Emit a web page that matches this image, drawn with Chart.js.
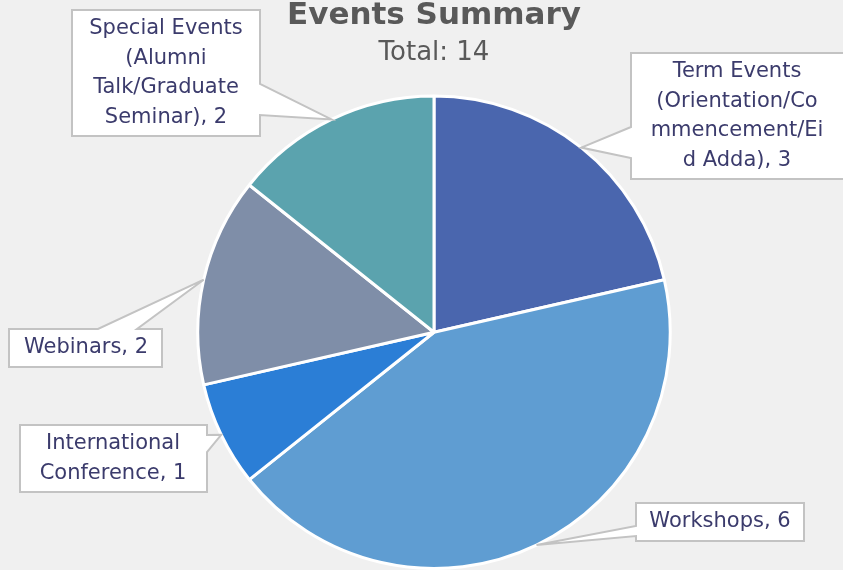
<!DOCTYPE html>
<html>
<head>
<meta charset="utf-8">
<script src="https://cdn.jsdelivr.net/npm/chart.js@4/dist/chart.umd.min.js"></script>
<style>
  html, body { margin: 0; padding: 0; background: #f0f0f0; }
  #wrap { width: 843px; height: 570px; position: relative; }
</style>
</head>
<body>
<div id="wrap"><canvas id="c" width="843" height="570"></canvas></div>
<script>
// ---- data ----
const categories = [
  "Term Events (Orientation/Commencement/Eid Adda)",
  "Workshops",
  "International Conference",
  "Webinars",
  "Special Events (Alumni Talk/Graduate Seminar)"
];
const eventCounts = [3, 6, 1, 2, 2];
const labelLines = [
  ["Term Events", "(Orientation/Co", "mmencement/Ei", "d Adda), 3"],
  ["Workshops, 6"],
  ["International", "Conference, 1"],
  ["Webinars, 2"],
  ["Special Events", "(Alumni", "Talk/Graduate", "Seminar), 2"]
];
const chartTitle = "Events Summary";
const chartSubtitle = "Total: 14";

// ---- styles / layout ----
const sliceColors = ["#4a66ae", "#5f9dd2", "#2b7ed6", "#7f8ea8", "#5ba3ae"];
const calloutBoxes = [
  { x: 631, y: 53, w: 230, h: 126, side: "left", a: 127, b: 158, cx: 737 },
  { x: 636, y: 503, w: 168, h: 38, side: "left", a: 526, b: 536, cx: 720 },
  { x: 20, y: 425, w: 187, h: 67, side: "right", a: 435, b: 452, cx: 113 },
  { x: 9, y: 329, w: 153, h: 38, side: "top", a: 98, b: 137, cx: 86 },
  { x: 72, y: 10, w: 188, h: 126, side: "right", a: 84, b: 115, cx: 166 }
];

const calloutPlugin = {
  id: "callouts",
  afterDatasetsDraw(chart) {
    const ctx = chart.ctx;
    const meta = chart.getDatasetMeta(0);
    meta.data.forEach((arc, i) => {
      const p = arc.getProps(["x", "y", "startAngle", "endAngle", "outerRadius"], true);
      const mid = (p.startAngle + p.endAngle) / 2;
      const tx = p.x + Math.cos(mid) * p.outerRadius;
      const ty = p.y + Math.sin(mid) * p.outerRadius;
      const bx = calloutBoxes[i];
      const x0 = bx.x, y0 = bx.y, x1 = bx.x + bx.w, y1 = bx.y + bx.h;
      ctx.save();
      ctx.beginPath();
      ctx.moveTo(x0, y0);
      if (bx.side === "top") {
        ctx.lineTo(bx.a, y0); ctx.lineTo(tx, ty); ctx.lineTo(bx.b, y0);
      }
      ctx.lineTo(x1, y0);
      if (bx.side === "right") {
        ctx.lineTo(x1, bx.a); ctx.lineTo(tx, ty); ctx.lineTo(x1, bx.b);
      }
      ctx.lineTo(x1, y1);
      ctx.lineTo(x0, y1);
      if (bx.side === "left") {
        ctx.lineTo(x0, bx.b); ctx.lineTo(tx, ty); ctx.lineTo(x0, bx.a);
      }
      ctx.closePath();
      ctx.fillStyle = "#ffffff";
      ctx.fill();
      ctx.lineWidth = 2;
      ctx.strokeStyle = "#c3c3c3";
      ctx.stroke();
      ctx.fillStyle = "#3b3b6c";
      ctx.font = "21px 'DejaVu Sans'";
      ctx.textAlign = "center";
      ctx.textBaseline = "middle";
      const lines = labelLines[i];
      const lh = 29.8;
      const startY = (y0 + y1) / 2 - (lines.length - 1) * lh / 2;
      lines.forEach((t, k) => ctx.fillText(t, bx.cx, startY + k * lh));
      ctx.restore();
    });
  }
};

new Chart(document.getElementById("c"), {
  type: "pie",
  data: {
    labels: categories,
    datasets: [{
      data: eventCounts,
      backgroundColor: sliceColors,
      borderColor: "#ffffff",
      borderWidth: 3,
      hoverOffset: 0
    }]
  },
  options: {
    responsive: false,
    animation: false,
    layout: { padding: { top: 0, bottom: -2, left: 195, right: 170 } },
    plugins: {
      legend: { display: false },
      tooltip: { enabled: false },
      title: {
        display: true,
        text: chartTitle,
        color: "#595959",
        font: { family: "'DejaVu Sans'", size: 31, weight: "bold", lineHeight: 1.05 },
        padding: { top: 0, bottom: 0 }
      },
      subtitle: {
        display: true,
        text: chartSubtitle,
        color: "#595959",
        font: { family: "'DejaVu Sans'", size: 26, weight: "normal", lineHeight: 1 },
        padding: { top: 8, bottom: 28 }
      }
    }
  },
  plugins: [calloutPlugin]
});
</script>
</body>
</html>
